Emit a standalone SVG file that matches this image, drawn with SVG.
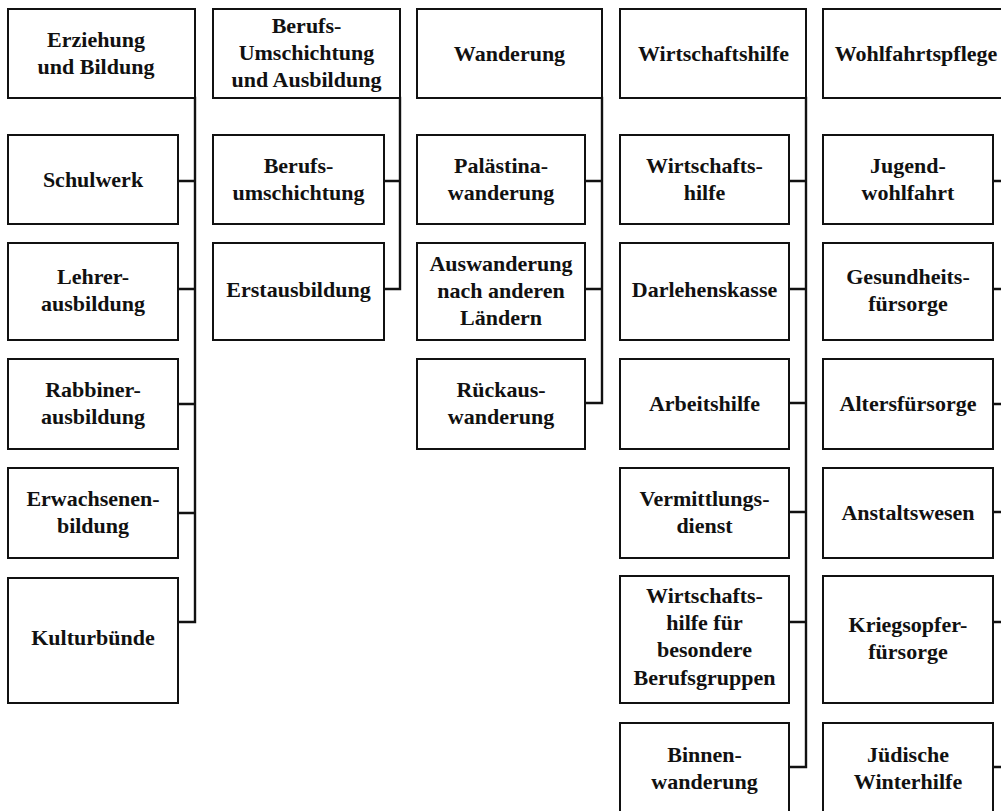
<svg xmlns="http://www.w3.org/2000/svg" width="1001" height="811" viewBox="0 0 1001 811">
<style>
.box{fill:#fff;stroke:#111;stroke-width:2}
.con{fill:none;stroke:#111;stroke-width:2.4;stroke-linejoin:miter;stroke-linecap:square}
text{font-family:"Liberation Serif","Times New Roman",serif;font-weight:bold;font-size:22px;fill:#111;text-anchor:middle}
</style>
<rect width="1001" height="811" fill="#fff"/>
<g id="connectors">
<path class="con" d="M195 98V622H178M178 181H195M178 289H195M178 404H195M178 513H195"/>
<path class="con" d="M400 98V289H384M384 181H400"/>
<path class="con" d="M602 98V403H585M585 181H602M585 289H602"/>
<path class="con" d="M806 98V767H789M789 181H806M789 289H806M789 403H806M789 512H806M789 622H806"/>
<path class="con" d="M1010 98V767H993M993 181H1010M993 289H1010M993 404H1010M993 512H1010M993 622H1010"/>
</g>
<!-- Column 1 -->
<g id="erziehung"><rect class="box" x="8" y="9" width="187" height="89"/><text x="96"><tspan x="96" y="47">Erziehung</tspan><tspan x="96" y="74">und Bildung</tspan></text></g>
<g id="schulwerk"><rect class="box" x="8" y="135" width="170" height="89"/><text x="93" y="187">Schulwerk</text></g>
<g id="lehrer"><rect class="box" x="8" y="243" width="170" height="97"/><text><tspan x="93" y="284">Lehrer-</tspan><tspan x="93" y="311">ausbildung</tspan></text></g>
<g id="rabbiner"><rect class="box" x="8" y="359" width="170" height="90"/><text><tspan x="93" y="397">Rabbiner-</tspan><tspan x="93" y="424">ausbildung</tspan></text></g>
<g id="erwachsenen"><rect class="box" x="8" y="468" width="170" height="90"/><text><tspan x="93" y="506">Erwachsenen-</tspan><tspan x="93" y="533">bildung</tspan></text></g>
<g id="kulturbuende"><rect class="box" x="8" y="578" width="170" height="125"/><text x="93" y="645">Kulturbünde</text></g>
<!-- Column 2 -->
<g id="berufsumschichtung-ausbildung"><rect class="box" x="213" y="9" width="187" height="89"/><text><tspan x="306.5" y="33">Berufs-</tspan><tspan x="306.5" y="60">Umschichtung</tspan><tspan x="306.5" y="87">und Ausbildung</tspan></text></g>
<g id="berufsumschichtung"><rect class="box" x="213" y="135" width="171" height="89"/><text><tspan x="298.5" y="173">Berufs-</tspan><tspan x="298.5" y="200">umschichtung</tspan></text></g>
<g id="erstausbildung"><rect class="box" x="213" y="243" width="171" height="97"/><text x="298.5" y="297">Erstausbildung</text></g>
<!-- Column 3 -->
<g id="wanderung"><rect class="box" x="417" y="9" width="185" height="89"/><text x="509.5" y="61">Wanderung</text></g>
<g id="palaestina"><rect class="box" x="417" y="135" width="168" height="89"/><text><tspan x="501" y="173">Palästina-</tspan><tspan x="501" y="200">wanderung</tspan></text></g>
<g id="auswanderung"><rect class="box" x="417" y="243" width="168" height="97"/><text><tspan x="501" y="271">Auswanderung</tspan><tspan x="501" y="298">nach anderen</tspan><tspan x="501" y="325">Ländern</tspan></text></g>
<g id="rueckwanderung"><rect class="box" x="417" y="359" width="168" height="90"/><text><tspan x="501" y="397">Rückaus-</tspan><tspan x="501" y="424">wanderung</tspan></text></g>
<!-- Column 4 -->
<g id="wirtschaftshilfe"><rect class="box" x="620" y="9" width="186" height="89"/><text x="713.5" y="61">Wirtschaftshilfe</text></g>
<g id="wirtschaftshilfe2"><rect class="box" x="620" y="135" width="169" height="89"/><text><tspan x="704.5" y="173">Wirtschafts-</tspan><tspan x="704.5" y="200">hilfe</tspan></text></g>
<g id="darlehenskasse"><rect class="box" x="620" y="243" width="169" height="97"/><text x="704.5" y="297">Darlehenskasse</text></g>
<g id="arbeitshilfe"><rect class="box" x="620" y="359" width="169" height="90"/><text x="704.5" y="411">Arbeitshilfe</text></g>
<g id="vermittlung"><rect class="box" x="620" y="468" width="169" height="90"/><text><tspan x="704.5" y="506">Vermittlungs-</tspan><tspan x="704.5" y="533">dienst</tspan></text></g>
<g id="berufsgruppen"><rect class="box" x="620" y="576" width="169" height="127"/><text><tspan x="704.5" y="603">Wirtschafts-</tspan><tspan x="704.5" y="630">hilfe für</tspan><tspan x="704.5" y="657">besondere</tspan><tspan x="704.5" y="685">Berufsgruppen</tspan></text></g>
<g id="binnenwanderung"><rect class="box" x="620" y="723" width="169" height="92"/><text><tspan x="704.5" y="762">Binnen-</tspan><tspan x="704.5" y="789">wanderung</tspan></text></g>
<!-- Column 5 -->
<g id="wohlfahrtspflege"><rect class="box" x="823" y="9" width="187" height="89"/><text x="916" y="61">Wohlfahrtspflege</text></g>
<g id="jugendwohlfahrt"><rect class="box" x="823" y="135" width="170" height="89"/><text><tspan x="908" y="173">Jugend-</tspan><tspan x="908" y="200">wohlfahrt</tspan></text></g>
<g id="gesundheit"><rect class="box" x="823" y="243" width="170" height="97"/><text><tspan x="908" y="284">Gesundheits-</tspan><tspan x="908" y="311">fürsorge</tspan></text></g>
<g id="alter"><rect class="box" x="823" y="359" width="170" height="90"/><text x="908" y="411">Altersfürsorge</text></g>
<g id="anstalt"><rect class="box" x="823" y="468" width="170" height="90"/><text x="908" y="520">Anstaltswesen</text></g>
<g id="kriegsopfer"><rect class="box" x="823" y="576" width="170" height="127"/><text><tspan x="908" y="632">Kriegsopfer-</tspan><tspan x="908" y="659">fürsorge</tspan></text></g>
<g id="winterhilfe"><rect class="box" x="823" y="723" width="170" height="92"/><text><tspan x="908" y="762">Jüdische</tspan><tspan x="908" y="789">Winterhilfe</tspan></text></g>
</svg>
